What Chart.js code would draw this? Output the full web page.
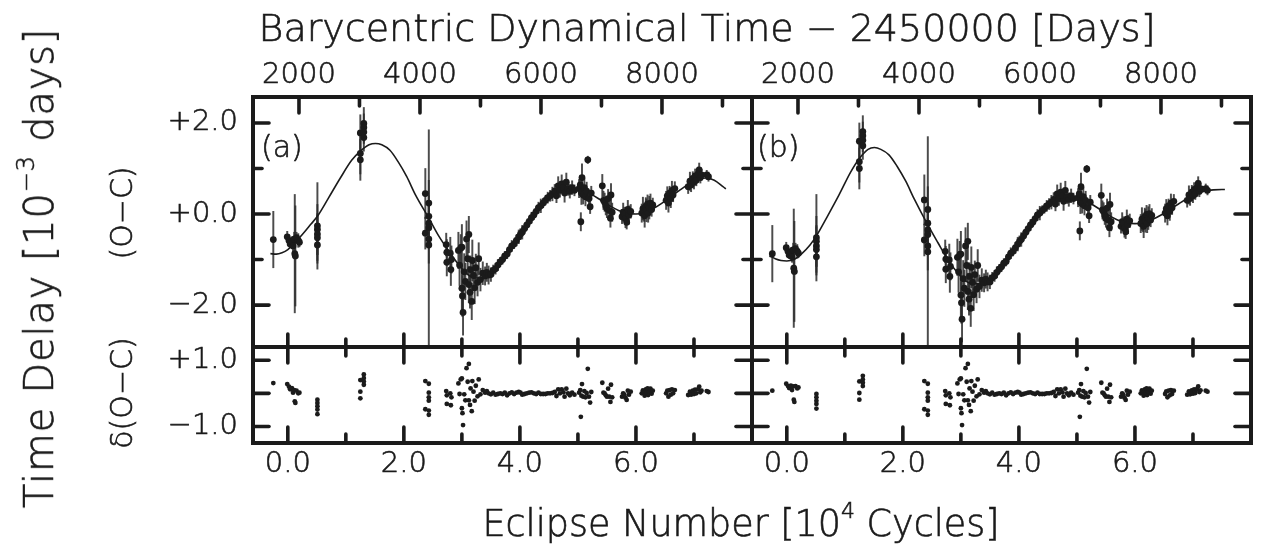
<!DOCTYPE html>
<html><head><meta charset="utf-8">
<script src="https://cdn.jsdelivr.net/npm/chart.js@4.4.1/dist/chart.umd.min.js"></script>
<style>
html,body{margin:0;padding:0;background:#fff;}
#wrap{position:relative;width:1266px;height:557px;overflow:hidden;background:#fff;font-family:"DejaVu Sans",sans-serif;font-weight:200;color:#1a1a1a;-webkit-text-stroke:0.6px #1a1a1a;}
canvas{position:absolute;left:0;top:0;}
.t{position:absolute;white-space:nowrap;transform:translate(-50%,-50%);line-height:1;z-index:5;}
.v{position:absolute;white-space:nowrap;transform:translate(-50%,-50%) rotate(-90deg);line-height:1;z-index:5;}
.p{position:absolute;white-space:nowrap;line-height:1;z-index:5;font-size:30px;}
sup{font-size:0.6em;vertical-align:0.8em;line-height:0;}
</style></head><body>
<div id="wrap">
<canvas id="cAt" width="1266" height="557"></canvas>
<canvas id="cAb" width="1266" height="557"></canvas>
<canvas id="cBt" width="1266" height="557"></canvas>
<canvas id="cBb" width="1266" height="557"></canvas>
<div class="t" style="left:707px;top:28px;font-size:38px;">Barycentric Dynamical Time − 2450000 [Days]</div>
<div class="t" style="left:741px;top:524px;font-size:36.5px;">Eclipse Number [10<sup>4</sup> Cycles]</div>
<div class="v" style="left:39px;top:268px;font-size:40px;letter-spacing:0.8px;">Time Delay [10<sup>−3</sup> days]</div>
<div class="v" style="left:122px;top:213px;font-size:30px;">(O−C)</div>
<div class="v" style="left:122px;top:393px;font-size:30px;">δ(O−C)</div>
<div class="p" style="left:261px;top:132px;">(a)</div>
<div class="p" style="left:757px;top:132px;">(b)</div>
</div>
<script>
// ---------- data ----------
// eclipse numbers in units of 10^4 cycles
const cycles = [-0.25,
-0.01,0.02,0.04,0.07,0.09,0.11,0.12,0.13,0.15,0.18,0.20,
0.51,0.51,0.51,0.51,0.51,
1.31,1.31,1.25,1.31,1.31,1.25,1.25,
2.37,2.43,2.43,2.43,2.43,2.37,2.43,2.43,
2.73,2.74,2.74,2.80,2.81,2.82,2.94,2.96,2.98,3.00,3.00,3.01,3.02,3.04,3.06,3.08,3.10,3.12,3.12,3.14,3.15,3.17,3.18,3.20,3.22,3.24,3.27,3.29,3.32,3.36,3.40,3.43,3.46,
3.50,3.54,3.58,3.62,3.66,3.70,3.74,3.78,3.82,3.86,3.90,3.94,3.98,4.01,4.04,4.08,4.12,4.16,4.20,4.24,4.28,4.32,4.36,4.40,
4.44,4.48,4.52,4.56,4.60,4.63,4.66,4.69,4.72,4.75,4.77,4.80,4.83,4.86,4.90,4.94,
5.02,5.04,5.05,5.06,5.07,5.09,5.11,5.13,5.15,5.17,5.19,5.21,5.23,
5.42,5.44,5.46,5.48,5.50,5.52,5.54,5.56,5.57,5.59,
5.76,5.78,5.80,5.82,5.84,5.86,5.88,5.91,
6.10,6.12,6.14,6.15,6.17,6.18,6.20,6.21,6.23,6.25,6.27,6.29,
6.52,6.54,6.56,6.58,6.60,6.62,6.64,6.67,
6.90,6.93,6.95,6.98,7.00,7.02,7.04,7.07,7.09,7.11,7.13,7.22,7.25];

// O-C [10^-3 d], panel (a)
const ocA = [-0.56,
-0.50,-0.58,-0.66,-0.60,-0.70,-0.55,-0.87,-0.92,-0.52,-0.58,-0.62,
-0.26,-0.34,-0.44,-0.52,-0.68,
1.99,1.90,1.78,1.80,1.68,1.33,1.19,
0.45,0.24,-0.05,-0.20,-0.30,-0.42,-0.55,-0.68,
-0.67,-0.84,-1.06,-0.86,-1.22,-1.00,-0.80,-1.12,-0.75,-0.73,-1.63,-1.80,-2.16,-1.27,-1.48,-0.55,-0.98,-0.45,-1.55,-1.72,-1.22,-1.92,-1.02,-1.35,-1.62,-1.18,-1.50,-0.98,-1.44,-1.30,-1.36,-1.28,-1.34,
-1.33,-1.24,-1.20,-1.12,-1.05,-1.00,-0.92,-0.88,-0.78,-0.70,-0.66,-0.58,-0.50,-0.44,-0.40,-0.32,-0.24,-0.16,-0.08,-0.02,0.06,0.14,0.18,0.24,
0.30,0.36,0.40,0.44,0.50,0.40,0.62,0.52,0.66,0.58,0.46,0.70,0.56,0.50,0.58,0.52,
0.56,0.64,-0.17,0.46,0.80,0.42,0.58,0.38,0.50,1.19,0.34,0.16,0.46,
0.62,0.30,0.26,0.18,0.12,0.34,0.08,-0.09,0.42,0.04,
-0.06,0.04,0.00,-0.10,-0.18,0.10,-0.02,0.06,
0.02,0.12,0.04,-0.04,0.16,0.08,0.22,0.02,0.14,0.24,0.10,0.20,
0.30,0.40,0.24,0.46,0.34,0.52,0.42,0.56,
0.60,0.72,0.64,0.78,0.70,0.84,0.74,0.88,0.97,0.80,0.86,0.86,0.82];

// O-C [10^-3 d], panel (b)
const ocB = [-0.87,
-0.74,-0.82,-0.90,-0.84,-0.94,-0.79,-1.19,-1.26,-0.76,-0.82,-0.86,
-0.52,-0.60,-0.70,-0.78,-0.94,
1.81,1.72,1.60,1.62,1.50,1.15,1.00,
0.31,0.10,-0.20,-0.35,-0.45,-0.57,-0.70,-0.83,
-0.82,-0.99,-1.21,-1.01,-1.37,-1.15,-0.95,-1.27,-0.90,-0.88,-1.78,-1.95,-2.31,-1.42,-1.63,-0.70,-1.13,-0.60,-1.70,-1.87,-1.37,-2.07,-1.17,-1.50,-1.77,-1.33,-1.65,-1.13,-1.59,-1.45,-1.51,-1.43,-1.49,
-1.49,-1.40,-1.36,-1.28,-1.21,-1.16,-1.08,-1.04,-0.94,-0.86,-0.82,-0.74,-0.66,-0.60,-0.56,-0.48,-0.40,-0.32,-0.24,-0.18,-0.10,-0.02,0.02,0.08,
0.12,0.18,0.22,0.26,0.32,0.22,0.44,0.34,0.48,0.40,0.28,0.52,0.38,0.32,0.40,0.34,
0.36,0.44,-0.37,0.26,0.60,0.22,0.38,0.18,0.30,0.99,0.14,-0.04,0.26,
0.41,0.09,0.05,-0.03,-0.09,0.13,-0.13,-0.30,0.21,-0.17,
-0.27,-0.17,-0.21,-0.31,-0.39,-0.11,-0.23,-0.15,
-0.21,-0.11,-0.19,-0.27,-0.07,-0.15,-0.01,-0.21,-0.09,0.01,-0.13,-0.03,
0.02,0.12,-0.04,0.18,0.06,0.24,0.14,0.28,
0.30,0.42,0.34,0.48,0.40,0.54,0.44,0.58,0.67,0.50,0.56,0.56,0.52];

// 1-sigma timing errors [10^-3 d]
const errOC = [0.62,
0.12,0.10,0.08,0.10,0.12,0.15,1.30,1.10,0.12,0.15,0.10,
0.95,0.55,0.45,0.50,0.40,
0.35,0.30,0.40,0.25,0.30,0.45,0.45,
0.55,0.50,0.45,0.40,0.35,0.35,2.40,0.40,
0.25,0.28,0.30,0.35,0.35,0.30,0.40,0.45,0.30,0.50,0.50,0.45,0.50,0.40,0.40,0.40,0.35,0.40,0.40,0.35,0.30,0.40,0.45,0.30,0.35,0.30,0.30,0.35,0.25,0.25,0.20,0.20,0.20,
0.15,0.12,0.12,0.12,0.10,0.10,0.10,0.10,0.10,0.12,0.10,0.12,0.15,0.12,0.15,0.10,0.10,0.10,0.12,0.10,0.10,0.12,0.15,0.10,
0.10,0.12,0.12,0.15,0.15,0.15,0.20,0.15,0.20,0.15,0.20,0.20,0.15,0.15,0.15,0.12,
0.20,0.20,0.20,0.25,0.30,0.20,0.20,0.20,0.20,0.08,0.15,0.15,0.15,
0.25,0.20,0.20,0.20,0.20,0.20,0.20,0.20,0.25,0.20,
0.15,0.20,0.15,0.20,0.15,0.20,0.20,0.15,
0.20,0.25,0.20,0.25,0.20,0.25,0.20,0.20,0.25,0.20,0.15,0.15,
0.20,0.20,0.20,0.15,0.20,0.20,0.15,0.15,
0.15,0.20,0.15,0.15,0.15,0.15,0.12,0.15,0.15,0.12,0.12,0.10,0.10];

// residuals δ(O-C), panel (a)
const resA = [0.31,
0.28,0.20,0.12,0.16,0.02,0.10,-0.24,-0.29,0.08,0.00,0.02,
-0.19,-0.29,-0.39,-0.49,-0.63,
0.57,0.46,0.40,0.36,0.26,0.05,-0.15,
0.37,0.29,0.02,-0.12,-0.22,-0.48,-0.52,-0.65,
0.07,-0.06,-0.32,0.00,-0.36,-0.12,0.30,-0.02,0.42,0.45,-0.45,-0.60,-0.96,-0.03,-0.21,0.76,0.35,0.89,-0.21,-0.35,0.15,-0.54,0.37,0.05,-0.22,0.23,-0.09,0.42,-0.03,0.10,0.02,0.07,0.00,
-0.03,0.02,-0.04,-0.02,0.00,-0.02,0.02,-0.06,0.00,0.03,-0.02,0.02,0.04,0.02,-0.04,-0.02,0.00,0.02,0.03,0.00,-0.02,0.02,-0.02,-0.02,
-0.02,0.00,0.00,0.01,0.04,-0.08,0.12,0.00,0.12,0.03,-0.10,0.14,0.00,-0.06,0.02,-0.04,
0.02,0.10,-0.71,-0.07,0.28,-0.10,0.07,-0.12,0.01,0.74,-0.10,-0.28,0.04,
0.32,0.02,0.00,-0.06,-0.10,0.14,-0.10,-0.26,0.26,-0.12,
-0.10,0.00,-0.04,-0.13,-0.20,0.08,-0.04,0.05,
0.00,0.09,0.01,-0.07,0.12,0.03,0.15,-0.05,0.06,0.14,-0.01,0.08,
0.00,0.08,-0.10,0.10,-0.04,0.12,0.00,0.10,
-0.05,0.05,-0.04,0.08,-0.02,0.11,0.00,0.12,0.20,0.03,0.08,0.07,0.04];

// residuals δ(O-C), panel (b)
const resB = [0.08,
0.29,0.22,0.16,0.23,0.10,0.21,-0.19,-0.26,0.22,0.15,0.18,
-0.02,-0.12,-0.22,-0.32,-0.46,
0.53,0.42,0.36,0.32,0.22,0.01,-0.19,
0.37,0.29,0.02,-0.12,-0.22,-0.48,-0.52,-0.65,
0.07,-0.06,-0.32,0.00,-0.36,-0.12,0.30,-0.02,0.42,0.45,-0.45,-0.60,-0.96,-0.03,-0.21,0.76,0.35,0.89,-0.21,-0.35,0.15,-0.54,0.37,0.05,-0.22,0.23,-0.09,0.42,-0.03,0.10,0.02,0.07,0.00,
-0.03,0.02,-0.04,-0.02,0.00,-0.02,0.02,-0.06,0.00,0.03,-0.02,0.02,0.04,0.02,-0.04,-0.02,0.00,0.02,0.03,0.00,-0.02,0.02,-0.02,-0.02,
-0.02,0.00,0.00,0.01,0.04,-0.08,0.12,0.00,0.12,0.03,-0.10,0.14,0.00,-0.06,0.02,-0.04,
0.02,0.10,-0.71,-0.07,0.28,-0.10,0.07,-0.12,0.01,0.74,-0.10,-0.28,0.04,
0.32,0.02,0.00,-0.06,-0.10,0.14,-0.10,-0.26,0.26,-0.12,
-0.10,0.00,-0.04,-0.13,-0.20,0.08,-0.04,0.05,
0.00,0.09,0.01,-0.07,0.12,0.03,0.15,-0.05,0.06,0.14,-0.01,0.08,
-0.02,0.06,-0.12,0.08,-0.06,0.10,-0.02,0.08,
-0.04,0.06,-0.03,0.09,-0.01,0.12,0.01,0.13,0.21,0.04,0.09,0.08,0.05];

// fitted model curves
const modelE = [-0.30,-0.20,-0.10,0.00,0.12,0.25,0.40,0.51,0.70,0.90,1.10,1.25,1.40,1.51,1.62,1.76,1.90,2.05,2.20,2.43,2.60,2.80,2.95,3.09,3.21,3.35,3.50,3.70,3.90,4.10,4.30,4.50,4.65,4.80,4.95,5.10,5.25,5.40,5.55,5.70,5.85,6.00,6.15,6.30,6.45,6.60,6.75,6.90,7.05,7.20,7.35,7.50,7.55];
const modelA = [-0.87,-0.88,-0.85,-0.78,-0.63,-0.45,-0.22,-0.05,0.35,0.78,1.18,1.38,1.52,1.55,1.52,1.40,1.15,0.82,0.42,-0.09,-0.48,-0.86,-1.12,-1.32,-1.40,-1.41,-1.32,-1.00,-0.64,-0.26,0.12,0.38,0.50,0.56,0.56,0.51,0.42,0.30,0.18,0.08,0.02,0.00,0.03,0.12,0.24,0.38,0.52,0.65,0.75,0.79,0.74,0.60,0.55];
const modelB = [-0.92,-0.98,-1.02,-1.03,-1.00,-0.88,-0.68,-0.48,-0.05,0.42,0.92,1.22,1.42,1.46,1.42,1.30,1.05,0.72,0.32,-0.24,-0.62,-1.05,-1.30,-1.48,-1.53,-1.53,-1.46,-1.16,-0.80,-0.42,-0.04,0.22,0.32,0.37,0.37,0.32,0.22,0.10,-0.03,-0.13,-0.19,-0.21,-0.19,-0.12,-0.02,0.10,0.22,0.34,0.44,0.50,0.53,0.54,0.54];

// tick values
const eclLabels = [0, 2, 4, 6];
const eclMajor = [0, 2, 4, 6];
const eclMinor = [1, 3, 5, 7];
const timeLabels = [2000, 4000, 6000, 8000];
const timeMinor = [3000, 5000, 7000, 9000];
const ocLabels = [2, 0, -2];
const ocMinor = [1, -1];
const resLabels = [1, -1];
const resMajor = [1, 0, -1];

// axis ranges
const X_MIN = -0.6, X_MAX = 8.0;
const T_MIN = 1240, T_MAX = 9488;
const OC_MIN = -2.92, OC_MAX = 2.57;
const RES_MIN = -1.5, RES_MAX = 1.4;

// ---------- drawing ----------
const INK = '#1b1b1b';
const FONT = '"DejaVu Sans", sans-serif';
const CW = 1266, CH = 557;
const LEFT_W = 90, TOP_H = 45, BOT_H = 45;
Chart.defaults.color = '#1a1a1a';
Chart.defaults.font.family = FONT;

const signed = v => (v < 0 ? '\u2212' : '+') + Math.abs(v).toFixed(1);

const frameTicks = {
  id: 'frameTicks',
  afterDraw(chart, args, o) {
    const {ctx, chartArea: a, scales} = chart;
    ctx.save();
    ctx.strokeStyle = INK;
    ctx.lineWidth = 3.6;
    ctx.lineCap = 'round';
    const seg = (x1, y1, x2, y2) => { ctx.beginPath(); ctx.moveTo(x1, y1); ctx.lineTo(x2, y2); ctx.stroke(); };
    const edgeX = (e, side) => {
      if (!e) return;
      const s = scales[e.scale];
      const run = (vals, len) => vals.forEach(v => {
        const p = s.getPixelForValue(v);
        if (side === 'top') seg(p, a.top, p, a.top + len); else seg(p, a.bottom, p, a.bottom - len);
      });
      run(e.major, e.majorLen); run(e.minor, e.minorLen);
    };
    edgeX(o.top, 'top');
    edgeX(o.bottom, 'bottom');
    if (o.y) {
      const s = scales.y;
      const run = (vals, len) => vals.forEach(v => {
        const p = s.getPixelForValue(v);
        seg(a.left, p, a.left + len, p); seg(a.right, p, a.right - len, p);
      });
      run(o.y.major, o.y.majorLen); run(o.y.minor, o.y.minorLen);
    }
    ctx.lineCap = 'square';
    ctx.lineWidth = 4;
    ctx.strokeRect(a.left, a.top, a.right - a.left, a.bottom - a.top);
    ctx.restore();
  }
};

function setTicks(vals) { return s => { s.ticks = vals.map(v => ({value: v})); }; }

function buildChart(id, area, spec) {
  const padding = {
    left: area.left - (spec.yLabels ? LEFT_W : 0),
    right: CW - area.right,
    top: area.top - (spec.timeAxis ? TOP_H : 0),
    bottom: CH - area.bottom - (spec.eclLabels ? BOT_H : 0)
  };
  const tickFont = {family: FONT, size: 29, weight: '200'};
  const tickStroke = {textStrokeWidth: 0.6, textStrokeColor: '#1a1a1a'};
  const scales = {
    x: {
      type: 'linear', axis: 'x', position: 'bottom', min: X_MIN, max: X_MAX, offset: false,
      display: !!spec.eclLabels,
      grid: {display: false, drawTicks: false}, border: {display: false},
      ticks: {font: tickFont, ...tickStroke, padding: 4, autoSkip: false, maxRotation: 0, callback: v => v.toFixed(1)},
      afterBuildTicks: setTicks(eclLabels)
    },
    y: {
      type: 'linear', axis: 'y', position: 'left', min: spec.yMin, max: spec.yMax,
      display: !!spec.yLabels,
      grid: {display: false, drawTicks: false}, border: {display: false},
      ticks: {font: tickFont, ...tickStroke, padding: 15, autoSkip: false, callback: v => signed(v)},
      afterBuildTicks: setTicks(spec.yTickLabels)
    }
  };
  if (spec.eclLabels) scales.x.afterFit = s => { s.height = BOT_H; };
  if (spec.yLabels) scales.y.afterFit = s => { s.width = LEFT_W; };
  if (spec.timeAxis) {
    scales.xt = {
      type: 'linear', axis: 'x', position: 'top', min: T_MIN, max: T_MAX, offset: false,
      display: true,
      grid: {display: false, drawTicks: false}, border: {display: false},
      ticks: {font: tickFont, ...tickStroke, padding: 4, autoSkip: false, maxRotation: 0, callback: v => String(v)},
      afterBuildTicks: setTicks(timeLabels),
      afterFit: s => { s.height = TOP_H; }
    };
  }
  return new Chart(document.getElementById(id), {
    type: 'scatter',
    data: {datasets: spec.datasets},
    options: {
      responsive: false, animation: false, events: [],
      layout: {padding},
      plugins: {legend: {display: false}, tooltip: {enabled: false}, frameTicks: spec.ticks},
      scales
    },
    plugins: [frameTicks]
  });
}

function topDatasets(oc, model) {
  return [
    {type: 'scatter', data: cycles.map((c, i) => ({x: c, y: oc[i]})), pointRadius: 3.4, pointBackgroundColor: INK, pointBorderWidth: 0, order: 1},
    {type: 'line', data: modelE.map((e, i) => ({x: e, y: model[i]})), borderColor: INK, borderWidth: 1.6, pointRadius: 0, fill: false, cubicInterpolationMode: 'monotone', order: 2},
    {type: 'bar', data: cycles.map((c, i) => ({x: c, y: [oc[i] - errOC[i], oc[i] + errOC[i]]})), backgroundColor: 'rgba(45,45,45,0.85)', borderWidth: 0, barThickness: 1.3, grouped: false, order: 3}
  ];
}
function resDatasets(res) {
  return [
    {type: 'scatter', data: cycles.map((c, i) => ({x: c, y: res[i]})), pointRadius: 2.4, pointBackgroundColor: INK, pointBorderWidth: 0}
  ];
}

const topTicks = {
  top: {scale: 'xt', major: timeLabels, minor: timeMinor, majorLen: 16, minorLen: 9},
  bottom: {scale: 'x', major: eclMajor, minor: eclMinor, majorLen: 13, minorLen: 8},
  y: {major: ocLabels, minor: ocMinor, majorLen: 16, minorLen: 9}
};
const resTicks = {
  top: {scale: 'x', major: eclMajor, minor: eclMinor, majorLen: 16, minorLen: 9},
  bottom: {scale: 'x', major: eclMajor, minor: eclMinor, majorLen: 16, minorLen: 9},
  y: {major: resMajor, minor: [], majorLen: 16, minorLen: 0}
};

const A = {left: 253, right: 752}, B = {left: 752, right: 1251};
const TOP = {top: 97, bottom: 347}, BOT = {top: 347, bottom: 443};

buildChart('cAt', {...A, ...TOP}, {yLabels: true, timeAxis: true, yMin: OC_MIN, yMax: OC_MAX, yTickLabels: ocLabels, datasets: topDatasets(ocA, modelA), ticks: topTicks});
buildChart('cAb', {...A, ...BOT}, {yLabels: true, eclLabels: true, yMin: RES_MIN, yMax: RES_MAX, yTickLabels: resLabels, datasets: resDatasets(resA), ticks: resTicks});
buildChart('cBt', {...B, ...TOP}, {timeAxis: true, yMin: OC_MIN, yMax: OC_MAX, yTickLabels: ocLabels, datasets: topDatasets(ocB, modelB), ticks: topTicks});
buildChart('cBb', {...B, ...BOT}, {eclLabels: true, yMin: RES_MIN, yMax: RES_MAX, yTickLabels: resLabels, datasets: resDatasets(resB), ticks: resTicks});
</script>
</body></html>
